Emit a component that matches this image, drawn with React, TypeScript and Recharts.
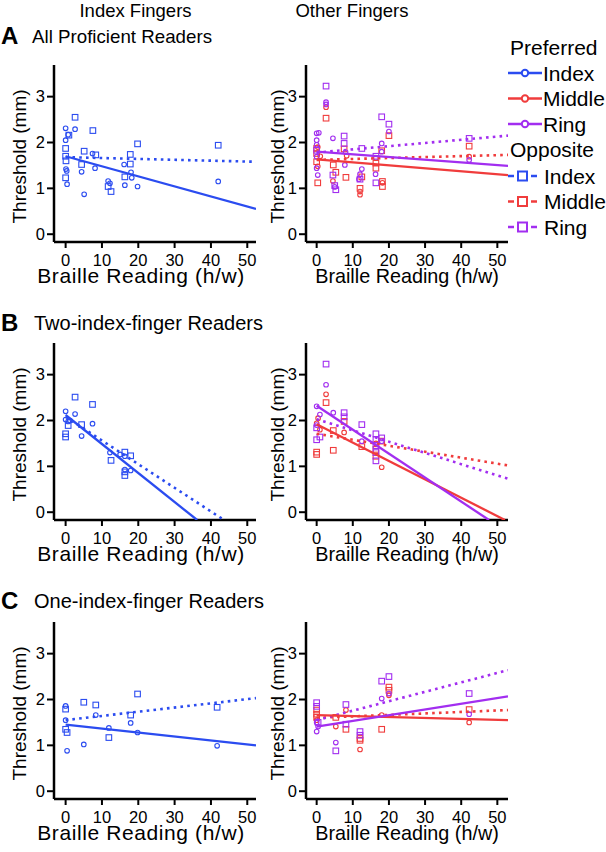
import { ScatterChart, Scatter, XAxis, YAxis } from "recharts";

const BLUE = "#2b4cf0";
const RED = "#f03c3c";
const PURPLE = "#a22ef0";
const FONT = "'Liberation Sans', Arial, Helvetica, sans-serif";

type XY = [number, number];

// x = Braille reading (h/w), y = threshold (mm)
const xTicks = [0, 10, 20, 30, 40, 50];
const yTicks = [0, 1, 2, 3];

// A: all proficient readers
const aIdxPref: XY[] = [[0, 2.31], [2.6, 2.29], [0, 2.05], [0.7, 2.17], [7.4, 1.76], [16.1, 1.52], [4.4, 1.36], [8.1, 1.44], [0.1, 1.42], [18, 1.35], [18.2, 1.23], [11.7, 1.16], [0.4, 1.09], [12.2, 1.11], [16.3, 1.07], [19.8, 1.04], [5.1, 0.87], [42, 1.15], [0.3, 1.38]];
const aIdxOpp: XY[] = [[2.6, 2.55], [7.5, 2.26], [0.9, 2.16], [0, 1.87], [5.1, 1.81], [8.3, 1.73], [19.8, 1.97], [17.8, 1.74], [0.1, 1.6], [17.8, 1.53], [4.4, 1.52], [16.3, 1.25], [0, 1.23], [11.7, 1.04], [12.5, 0.93], [42, 1.94], [0, 1.7]];
const aIdxPrefFit: XY[] = [[0, 1.7], [52.4, 0.55]];
const aIdxOppFit: XY[] = [[0, 1.68], [52.4, 1.58]];

const aMidPref: XY[] = [[2.6, 2.77], [0.3, 1.9], [1, 1.7], [8.3, 1.71], [4.5, 1.16], [12, 0.93], [12, 0.86], [16.4, 1.66], [18.2, 1.12], [0.3, 1.48], [42.2, 1.69]];
const aMidOpp: XY[] = [[2.6, 2.53], [20, 2.15], [0, 1.87], [0, 1.76], [7.6, 1.86], [0, 1.58], [4.6, 1.51], [5.3, 1.35], [0.3, 1.12], [8.1, 1.24], [12.5, 1.25], [12, 1.0], [16.4, 1.44], [16.4, 1.55], [18.2, 1.15], [18.2, 1.04], [18, 1.82], [42.2, 1.92]];
const aRingPref: XY[] = [[2.6, 2.88], [2.6, 2.83], [0.6, 2.21], [0, 2.2], [4.5, 2.09], [20, 2.24], [18, 1.98], [0, 2.05], [0, 1.95], [8, 1.79], [0, 1.69], [7.8, 1.51], [0, 1.44], [0.3, 1.29], [12.5, 1.42], [12, 1.31], [11.7, 1.2], [16.3, 1.31], [18, 1.8], [42.2, 1.62], [5, 1.03]];
const aRingOpp: XY[] = [[2.6, 3.23], [7.6, 2.14], [18, 2.56], [20, 2.4], [12.5, 1.87], [7.6, 1.98], [4.5, 1.29], [5, 1.06], [5.3, 0.97], [16.4, 1.12], [0, 1.83], [16.4, 1.7], [42.2, 2.09], [12, 1.2]];
const aMidPrefFit: XY[] = [[0, 1.63], [52.95, 1.29]];
const aRingPrefFit: XY[] = [[0, 1.8], [52.95, 1.49]];
const aMidOppFit: XY[] = [[0, 1.62], [52.95, 1.73]];
const aRingOppFit: XY[] = [[0, 1.78], [52.95, 2.15]];

// B: two-index-finger readers
const bIdxPref: XY[] = [[0, 2.2], [0, 2.02], [0.7, 1.98], [2.6, 2.14], [7.4, 1.93], [4.4, 1.66], [12.2, 1.3], [16.3, 1.22], [16.3, 0.93], [17.9, 0.91], [15, 1.26], [1.2, 2.0]];
const bIdxOpp: XY[] = [[2.6, 2.51], [7.4, 2.35], [0, 1.71], [0, 1.64], [0.7, 1.89], [4.4, 1.91], [12.5, 1.13], [16.3, 1.31], [16.3, 0.88], [16.3, 0.8], [17.9, 1.23]];
const bIdxPrefFit: XY[] = [[0, 2.12], [36.2, -0.17]];
const bIdxOppFit: XY[] = [[0, 2.08], [43.6, -0.17]];

const bMidPref: XY[] = [[2.6, 2.57], [0.4, 2.05], [0, 1.94], [0.9, 1.8], [7.6, 1.74], [18, 0.98], [16.4, 1.5]];
const bMidOpp: XY[] = [[2.6, 2.39], [7.6, 1.98], [4.6, 1.78], [0, 1.31], [0, 1.26], [4.6, 1.35], [12.5, 1.43], [16.4, 1.37], [16.4, 1.22], [18, 1.55]];
const bRingPref: XY[] = [[2.6, 2.78], [0, 2.31], [0.9, 2.13], [4.6, 2.17], [12.5, 1.55], [18, 1.55], [0, 1.9]];
const bRingOpp: XY[] = [[2.6, 3.23], [7.6, 2.17], [7.6, 2.08], [0, 1.84], [0.9, 1.64], [0, 1.58], [12.5, 1.91], [16.4, 1.71], [16.4, 1.58], [16.4, 1.45], [16.4, 1.3], [16.4, 1.12], [18, 1.62]];
const bMidPrefFit: XY[] = [[0, 1.92], [52.1, -0.17]];
const bRingPrefFit: XY[] = [[0, 2.32], [47.7, -0.17]];
const bMidOppFit: XY[] = [[0, 1.71], [52.95, 1.02]];
const bRingOppFit: XY[] = [[0, 2.03], [52.95, 0.73]];

// C: one-index-finger readers
const cIdxPref: XY[] = [[0, 1.86], [0, 1.55], [0.4, 0.88], [5, 1.02], [8.3, 1.66], [11.9, 1.38], [17.9, 1.49], [19.8, 1.28], [41.7, 0.99]];
const cIdxOpp: XY[] = [[0, 1.79], [0, 1.35], [0.4, 1.28], [5, 1.94], [8.3, 1.88], [11.9, 1.17], [17.9, 1.66], [19.8, 2.12], [41.7, 1.83]];
const cIdxPrefFit: XY[] = [[0, 1.45], [52.4, 1.0]];
const cIdxOppFit: XY[] = [[0, 1.55], [52.4, 2.03]];

const cMidPref: XY[] = [[5.3, 1.41], [8.1, 1.77], [12, 0.91], [18, 1.66], [20, 2.09], [42.2, 1.5], [0, 1.55]];
const cMidOpp: XY[] = [[0, 1.77], [0, 1.68], [0, 1.61], [5.3, 1.61], [8.1, 1.35], [12, 1.15], [12, 1.11], [18, 1.35], [20, 2.27], [20, 2.2], [42.2, 1.78]];
const cRingPref: XY[] = [[0.4, 1.41], [0, 1.3], [5.3, 1.06], [18, 2.02], [20, 2.13], [42.2, 1.68], [0, 1.5]];
const cRingOpp: XY[] = [[0, 1.93], [0, 1.85], [0.4, 1.5], [5.3, 0.88], [8.1, 1.89], [8.1, 1.46], [12, 1.3], [12, 1.22], [18, 2.4], [20, 2.5], [42.2, 2.13]];
const cMidPrefFit: XY[] = [[0, 1.66], [52.95, 1.55]];
const cRingPrefFit: XY[] = [[0, 1.41], [52.95, 2.07]];
const cMidOppFit: XY[] = [[0, 1.6], [52.95, 1.77]];
const cRingOppFit: XY[] = [[0, 1.55], [52.95, 2.64]];

const toPts = (arr: XY[]) => arr.map(([x, y]) => ({ x, y }));

const circle = (color: string) => (p: any) => (
  <circle cx={p.cx} cy={p.cy} r={2.3} fill="none" stroke={color} strokeWidth={1.1} />
);
const square = (color: string) => (p: any) => (
  <rect x={p.cx - 2.8} y={p.cy - 2.8} width={5.6} height={5.6} fill="none" stroke={color} strokeWidth={1.1} />
);

interface Series { data: XY[]; color: string; sq?: boolean }
interface Fit { data: XY[]; color: string; dotted?: boolean }

interface PanelProps {
  left: number;
  top: number;
  right?: boolean;
  series: Series[];
  fits: Fit[];
}

const Panel = ({ left, top, right, series, fits }: PanelProps) => {
  const xDomain = right ? [-2.95, 52.95] : [-3.2, 52.4];
  const xTitle = (p: any) => {
    const vb = p.viewBox;
    const cx = right ? vb.x + vb.width / 2 : vb.x + vb.width / 2 - 14;
    return (
      <text x={cx} y={vb.y + 41} textAnchor="middle" fontSize={right ? 19.8 : 21} fontFamily={FONT} fill="#000"
        letterSpacing={right ? 0 : 0.6}>
        Braille Reading (h/w)
      </text>
    );
  };
  const yTitle = (p: any) => {
    const vb = p.viewBox;
    const cx = right ? 25 : 19;
    const cy = vb.y + vb.height / 2 + 3;
    return (
      <text x={cx} y={cy} transform={`rotate(-90, ${cx}, ${cy})`} textAnchor="middle" dominantBaseline="central"
        fontSize={19} fontFamily={FONT} fill="#000">
        Threshold (mm)
      </text>
    );
  };
  return (
    <div style={{ position: "absolute", left, top }}>
      <ScatterChart width={262} height={234} margin={{ top: 5, right: 6, bottom: 8, left: 0 }}>
        <XAxis type="number" dataKey="x" domain={xDomain} ticks={xTicks} allowDataOverflow height={44}
          axisLine={{ stroke: "#000", strokeWidth: 2.5 }} tickLine={{ stroke: "#000", strokeWidth: 2 }}
          tickSize={6} tickMargin={6} tick={{ fontSize: 16.5, fill: "#000", fontFamily: FONT }} label={xTitle} />
        <YAxis type="number" dataKey="y" domain={[-0.17, 3.69]} ticks={yTicks} allowDataOverflow width={54}
          axisLine={{ stroke: "#000", strokeWidth: 2.5 }} tickLine={{ stroke: "#000", strokeWidth: 2 }}
          tickSize={7} tickMargin={2} tick={{ fontSize: 16.5, fill: "#000", fontFamily: FONT }} label={yTitle} />
        {series.map((s, i) => (
          <Scatter key={"s" + i} data={toPts(s.data)} shape={s.sq ? square(s.color) : circle(s.color)} isAnimationActive={false} />
        ))}
        {fits.map((f, i) => (
          <Scatter key={"f" + i} data={toPts(f.data)} shape={() => <g />} isAnimationActive={false}
            line={{ stroke: f.color, strokeWidth: f.dotted ? 2.6 : 2.3, strokeDasharray: f.dotted ? "2.6 4.2" : undefined }} />
        ))}
      </ScatterChart>
    </div>
  );
};

const legendPref = [
  { name: "Index", color: BLUE },
  { name: "Middle", color: RED },
  { name: "Ring", color: PURPLE },
];

const Legend = () => (
  <svg style={{ position: "absolute", left: 500, top: 30 }} width={106} height={215}>
    <text x={10} y={25} fontSize={21} fontFamily={FONT} fill="#000">Preferred</text>
    {legendPref.map((d, i) => {
      const cy = 43 + i * 25.5;
      return (
        <g key={"p" + d.name}>
          <line x1={8} x2={42} y1={cy} y2={cy} stroke={d.color} strokeWidth={2.5} />
          <circle cx={25} cy={cy} r={3.2} fill="#fff" stroke={d.color} strokeWidth={2} />
          <text x={43} y={cy + 7.5} fontSize={21} fontFamily={FONT} fill="#000">{d.name}</text>
        </g>
      );
    })}
    <text x={10} y={127} fontSize={21} fontFamily={FONT} fill="#000">Opposite</text>
    {legendPref.map((d, i) => {
      const cy = 146 + i * 25.5;
      return (
        <g key={"o" + d.name}>
          <line x1={8} x2={14} y1={cy} y2={cy} stroke={d.color} strokeWidth={2.5} />
          <rect x={18} y={cy - 4.5} width={9} height={9} fill="#fff" stroke={d.color} strokeWidth={2} />
          <line x1={31} x2={37} y1={cy} y2={cy} stroke={d.color} strokeWidth={2.5} />
          <text x={44} y={cy + 7.5} fontSize={21} fontFamily={FONT} fill="#000">{d.name}</text>
        </g>
      );
    })}
  </svg>
);

const Headings = () => (
  <svg style={{ position: "absolute", left: 0, top: 0 }} width={606} height={852}>
    <text x={135.5} y={17} textAnchor="middle" fontSize={18.5} fontFamily={FONT} fill="#000">Index Fingers</text>
    <text x={352} y={17} textAnchor="middle" fontSize={18.5} fontFamily={FONT} fill="#000">Other Fingers</text>
    <text x={1} y={44} fontSize={24} fontWeight="bold" fontFamily={FONT} fill="#000">A</text>
    <text x={32} y={43} fontSize={19} fontFamily={FONT} fill="#000" textLength={180} lengthAdjust="spacingAndGlyphs">All Proficient Readers</text>
    <text x={1} y={331} fontSize={24} fontWeight="bold" fontFamily={FONT} fill="#000">B</text>
    <text x={34} y={330} fontSize={20} fontFamily={FONT} fill="#000">Two-index-finger Readers</text>
    <text x={1} y={609} fontSize={24} fontWeight="bold" fontFamily={FONT} fill="#000">C</text>
    <text x={34} y={608} fontSize={20} fontFamily={FONT} fill="#000">One-index-finger Readers</text>
  </svg>
);

export default function App() {
  return (
    <div style={{ position: "absolute", left: 0, top: 0, width: 606, height: 852, background: "#fff" }}>
      <Headings />
      <Panel left={0} top={60}
        series={[{ data: aIdxPref, color: BLUE }, { data: aIdxOpp, color: BLUE, sq: true }]}
        fits={[{ data: aIdxPrefFit, color: BLUE }, { data: aIdxOppFit, color: BLUE, dotted: true }]} />
      <Panel left={252} top={60} right
        series={[
          { data: aMidPref, color: RED }, { data: aMidOpp, color: RED, sq: true },
          { data: aRingPref, color: PURPLE }, { data: aRingOpp, color: PURPLE, sq: true },
        ]}
        fits={[
          { data: aMidOppFit, color: RED, dotted: true }, { data: aRingOppFit, color: PURPLE, dotted: true },
          { data: aMidPrefFit, color: RED }, { data: aRingPrefFit, color: PURPLE },
        ]} />
      <Panel left={0} top={338}
        series={[{ data: bIdxPref, color: BLUE }, { data: bIdxOpp, color: BLUE, sq: true }]}
        fits={[{ data: bIdxPrefFit, color: BLUE }, { data: bIdxOppFit, color: BLUE, dotted: true }]} />
      <Panel left={252} top={338} right
        series={[
          { data: bMidPref, color: RED }, { data: bMidOpp, color: RED, sq: true },
          { data: bRingPref, color: PURPLE }, { data: bRingOpp, color: PURPLE, sq: true },
        ]}
        fits={[
          { data: bMidOppFit, color: RED, dotted: true }, { data: bRingOppFit, color: PURPLE, dotted: true },
          { data: bMidPrefFit, color: RED }, { data: bRingPrefFit, color: PURPLE },
        ]} />
      <Panel left={0} top={617}
        series={[{ data: cIdxPref, color: BLUE }, { data: cIdxOpp, color: BLUE, sq: true }]}
        fits={[{ data: cIdxPrefFit, color: BLUE }, { data: cIdxOppFit, color: BLUE, dotted: true }]} />
      <Panel left={252} top={617} right
        series={[
          { data: cMidPref, color: RED }, { data: cMidOpp, color: RED, sq: true },
          { data: cRingPref, color: PURPLE }, { data: cRingOpp, color: PURPLE, sq: true },
        ]}
        fits={[
          { data: cMidOppFit, color: RED, dotted: true }, { data: cRingOppFit, color: PURPLE, dotted: true },
          { data: cMidPrefFit, color: RED }, { data: cRingPrefFit, color: PURPLE },
        ]} />
      <Legend />
    </div>
  );
}
